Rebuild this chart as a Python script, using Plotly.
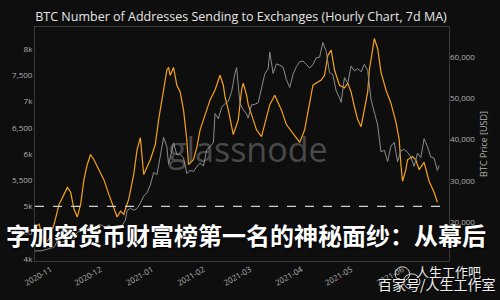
import plotly.graph_objects as go

price_dates = ["2020-10-22","2020-10-24","2020-10-26","2020-10-28","2020-10-30","2020-11-01","2020-11-03","2020-11-05","2020-11-07","2020-11-09","2020-11-11","2020-11-13","2020-11-15","2020-11-17","2020-11-19","2020-11-21","2020-11-23","2020-11-25","2020-11-26","2020-11-28","2020-11-30","2020-12-02","2020-12-04","2020-12-06","2020-12-08","2020-12-10","2020-12-12","2020-12-14","2020-12-16","2020-12-17","2020-12-19","2020-12-21","2020-12-23","2020-12-25","2020-12-27","2020-12-29","2020-12-31","2021-01-02","2021-01-04","2021-01-06","2021-01-08","2021-01-10","2021-01-11","2021-01-13","2021-01-14","2021-01-16","2021-01-18","2021-01-20","2021-01-22","2021-01-24","2021-01-26","2021-01-28","2021-01-30","2021-02-01","2021-02-03","2021-02-05","2021-02-07","2021-02-08","2021-02-10","2021-02-12","2021-02-14","2021-02-16","2021-02-18","2021-02-20","2021-02-21","2021-02-23","2021-02-25","2021-02-27","2021-02-28","2021-03-02","2021-03-04","2021-03-06","2021-03-08","2021-03-10","2021-03-12","2021-03-13","2021-03-15","2021-03-17","2021-03-19","2021-03-21","2021-03-23","2021-03-25","2021-03-27","2021-03-29","2021-03-31","2021-04-02","2021-04-04","2021-04-06","2021-04-08","2021-04-10","2021-04-12","2021-04-14","2021-04-16","2021-04-18","2021-04-20","2021-04-22","2021-04-24","2021-04-25","2021-04-27","2021-04-29","2021-05-01","2021-05-03","2021-05-05","2021-05-07","2021-05-09","2021-05-11","2021-05-13","2021-05-15","2021-05-17","2021-05-19","2021-05-21","2021-05-23","2021-05-25","2021-05-27","2021-05-29","2021-05-31","2021-06-02","2021-06-04","2021-06-06","2021-06-08","2021-06-10","2021-06-12","2021-06-14","2021-06-16","2021-06-18","2021-06-20","2021-06-22","2021-06-23"]
price_values = [12900,13100,13050,13300,13500,13750,13900,15500,15000,15400,15700,16300,16000,17600,17800,18700,18400,19100,17100,17700,19500,19200,18700,19300,18400,18300,18800,19200,20500,22800,23400,22900,23300,24600,26300,27100,29000,32000,31500,36500,40500,38200,34000,37300,39200,36300,36400,35500,31800,32500,32300,33400,34300,33600,37500,38200,39300,46300,45000,47800,48700,49200,51600,56000,57400,48800,47200,46200,45200,48400,48500,48900,52300,55900,57100,61200,56000,58300,58000,57500,54500,52600,55800,57600,58800,59000,58200,57300,58100,59800,59900,63500,61300,56200,55700,51800,50100,49000,55000,53600,57800,56600,57200,56400,58200,56700,49700,46800,43500,37000,37400,34700,38400,39300,34600,37300,37600,36900,35800,33500,36700,35600,40200,38300,35800,35500,32500,33700]

addr_dates = ["2020-10-22","2020-10-25","2020-10-28","2020-10-31","2020-11-03","2020-11-06","2020-11-09","2020-11-11","2020-11-13","2020-11-15","2020-11-17","2020-11-19","2020-11-21","2020-11-23","2020-11-25","2020-11-27","2020-11-30","2020-12-03","2020-12-06","2020-12-09","2020-12-11","2020-12-13","2020-12-15","2020-12-18","2020-12-21","2020-12-23","2020-12-25","2020-12-27","2020-12-31","2021-01-03","2021-01-05","2021-01-08","2021-01-10","2021-01-11","2021-01-12","2021-01-14","2021-01-16","2021-01-18","2021-01-20","2021-01-22","2021-01-23","2021-01-26","2021-01-28","2021-01-30","2021-02-02","2021-02-05","2021-02-08","2021-02-11","2021-02-13","2021-02-14","2021-02-16","2021-02-19","2021-02-22","2021-02-24","2021-02-25","2021-02-27","2021-02-28","2021-03-03","2021-03-05","2021-03-08","2021-03-10","2021-03-13","2021-03-16","2021-03-18","2021-03-20","2021-03-23","2021-03-27","2021-03-30","2021-03-31","2021-04-03","2021-04-06","2021-04-08","2021-04-11","2021-04-13","2021-04-15","2021-04-17","2021-04-19","2021-04-21","2021-04-24","2021-04-27","2021-04-29","2021-05-01","2021-05-03","2021-05-05","2021-05-07","2021-05-09","2021-05-11","2021-05-12","2021-05-14","2021-05-15","2021-05-17","2021-05-19","2021-05-22","2021-05-25","2021-05-28","2021-05-30","2021-05-31","2021-06-01","2021-06-03","2021-06-04","2021-06-07","2021-06-09","2021-06-11","2021-06-14","2021-06-17","2021-06-20","2021-06-22"]
addr_values = [4600,4660,4280,4380,4660,5040,5230,5360,5270,4950,4800,5040,5510,5800,5990,5890,5700,5510,5230,4950,4800,4910,4850,5140,5610,6080,6310,5610,5890,6180,6650,7220,7600,7650,7500,7650,7310,7180,6840,6270,5800,5890,6120,6460,6750,7030,7220,7500,7310,7090,6840,6370,6650,7220,7350,7120,6940,6650,6460,6330,6560,6940,7120,6990,6840,6560,6400,6270,6220,6460,6940,7310,7370,7410,7500,7880,7980,7600,7310,7260,7350,7180,6900,6650,6520,6840,7180,7600,7980,8200,8010,7560,7220,6970,6610,6270,5800,5480,5700,5890,5950,5890,5700,5840,5480,5270,5080]

left_tickvals = [4000, 4500, 5000, 5500, 6000, 6500, 7000, 7500, 8000]
left_ticktext = ["4k", "4,500", "5k", "5,500", "6k", "6,500", "7k", "7,500", "8k"]
right_tickvals = [20000, 30000, 40000, 50000, 60000]
ref_level = 5000

title = "BTC Number of Addresses Sending to Exchanges (Hourly Chart, 7d MA)"
overlay = "字加密货币财富榜第一名的神秘面纱：从幕后"

fig = go.Figure()
fig.add_trace(go.Scatter(x=price_dates, y=price_values, yaxis="y2", mode="lines",
                         line=dict(color="#8c8c8c", width=1), name="BTC Price"))
fig.add_trace(go.Scatter(x=addr_dates, y=addr_values, mode="lines",
                         line=dict(color="#f7a21b", width=1.2), name="Addresses"))

fig.add_shape(type="line", xref="paper", yref="y", x0=0, x1=1, y0=ref_level, y1=ref_level,
              line=dict(color="#d0d0d0", width=1.3, dash="dash"))

fig.update_layout(
    width=500, height=300, showlegend=False,
    paper_bgcolor="#0e0e0e", plot_bgcolor="#0e0e0e",
    margin=dict(l=30, r=48, t=27, b=38),
    title=dict(text=title, x=0.482, xanchor="center", y=0.945, yanchor="middle",
               font=dict(family="Open Sans", size=12.5, color="#e6e6e6")),
    font=dict(family="Open Sans", color="#b0b0b0", size=8),
    xaxis=dict(range=["2020-10-22 12:00", "2021-06-29"], tickformat="%Y-%m", dtick="M1",
               tickangle=-30, showgrid=False, zeroline=False, showline=True, linecolor="#3a3a3a",
               mirror=True, ticks="", tickfont=dict(size=8, color="#b0b0b0")),
    yaxis=dict(range=[3960, 8420], tickvals=left_tickvals, ticktext=left_ticktext,
               showgrid=False, zeroline=False, showline=True, linecolor="#3a3a3a", mirror=True,
               ticks="", tickfont=dict(size=8, color="#b0b0b0")),
    yaxis2=dict(range=[10600, 67230], overlaying="y", side="right", tickvals=right_tickvals,
                tickprefix="$", tickformat=",", showgrid=False, zeroline=False,
                tickfont=dict(size=8, color="#b0b0b0"),
                title=dict(text="BTC Price [USD]", font=dict(size=9, color="#b0b0b0"), standoff=6)),
)

fig.add_annotation(text="glassnode", xref="paper", yref="paper", x=0.515, y=0.48,
                   showarrow=False, font=dict(family="Open Sans", size=34, color="rgba(150,150,150,0.45)"))

fig.add_annotation(text=overlay, xref="paper", yref="paper", x=-0.075, y=0.115, xanchor="left", yanchor="middle",
                   showarrow=False,
                   font=dict(family="Noto Sans CJK SC", size=24, color="#ffffff", weight="bold",
                             shadow="1px 1px 2px #000"))

fig.add_annotation(text="人生工作吧", xref="paper", yref="paper", x=0.998, y=-0.043, xanchor="center",
                   yanchor="middle", showarrow=False,
                   font=dict(family="Noto Sans CJK SC", size=13, color="#f0f0f0",
                             shadow="1px 1px 1px #000"))
fig.add_annotation(text="百家号/人生工作室", xref="paper", yref="paper", x=0.972, y=-0.098, xanchor="center",
                   yanchor="middle", showarrow=False,
                   font=dict(family="Noto Sans CJK SC", size=14, color="#f0f0f0",
                             shadow="1px 1px 1px #000"))
fig.add_shape(type="circle", xref="paper", yref="paper", x0=0.87, x1=0.905, y0=-0.085, y1=-0.025,
              line=dict(color="#dddddd", width=1))
fig.add_shape(type="circle", xref="paper", yref="paper", x0=0.89, x1=0.93, y0=-0.12, y1=-0.055,
              line=dict(color="#dddddd", width=1))

fig.write_html("out.html")
